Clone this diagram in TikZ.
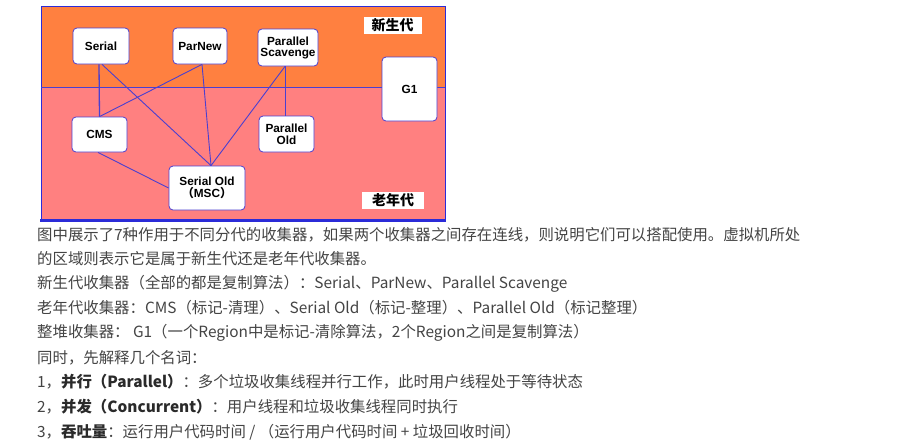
\documentclass[tikz,border=0pt]{standalone}
\usepackage{fontspec}
\setmainfont{Liberation Sans}
\newfontfamily\cjk{Noto Sans CJK SC}
\newfontfamily\lab{Liberation Sans}
\usetikzlibrary{calc}
\definecolor{young}{HTML}{FF8040}
\definecolor{old}{HTML}{FF8080}
\definecolor{edge}{HTML}{4A3FD0}
\definecolor{frame}{HTML}{2B2BD8}
\definecolor{txt}{HTML}{444444}
\definecolor{txtb}{HTML}{2A2A2A}
\begin{document}
\begin{tikzpicture}[x=1pt,y=-1pt,
  gc/.style={draw=edge,line width=0.8pt,fill=white,rounded corners=4pt,
    inner sep=0pt,align=center,font=\lab\bfseries\fontsize{11.8}{13}\selectfont,text=black},
  conn/.style={draw=edge,line width=0.9pt},
  genlab/.style={fill=white,inner sep=0pt,minimum width=58pt,minimum height=17pt,
    font=\cjk\bfseries\fontsize{14}{14}\selectfont,text=black},
  line/.style={anchor=west,inner sep=0pt,text=txt,font=\cjk\fontsize{15.4}{18}\selectfont}
]
\useasboundingbox (0,0) rectangle (901,445);
\fill[white] (0,0) rectangle (901,445);
% generations
\fill[young] (41,6) rectangle (445,87);
\fill[old] (41,87) rectangle (445,221);
\draw[frame,line width=0.8pt] (41,221) -- (41,6) -- (445,6) -- (445,221);
\draw[frame,line width=2.4pt] (40,220.5) -- (446,220.5);
\draw[edge,line width=0.8pt] (41,87) -- (445,87);
% labels
\node[genlab] (ygen) at (392.5,25) {新生代};
\node[genlab,minimum width=62pt] (ogen) at (393,200.5) {老年代};
% collectors
\node[gc,minimum width=56pt,minimum height=36pt] (serial) at (101,46) {Serial};
\node[gc,minimum width=54pt,minimum height=36pt] (parnew) at (200,46) {ParNew};
\node[gc,minimum width=60pt,minimum height=37pt] (ps) at (288,47.5) {Parallel\\[-2pt]Scavenge};
\node[gc,minimum width=55pt,minimum height=64pt] (g1) at (409.5,89) {G1};
\node[gc,minimum width=55pt,minimum height=35pt] (cms) at (99.5,134.5) {CMS};
\node[gc,minimum width=55pt,minimum height=36pt] (po) at (286.5,134) {Parallel\\[-1pt]Old};
\node[gc,minimum width=76pt,minimum height=44pt] (so) at (207,188) {Serial Old\\[-1pt]{\cjk （}MSC{\cjk ）}};
% connectors
\coordinate (sotop) at ($(so.north)+(4,0)$);
\coordinate (pssouth) at ($(ps.south)+(-3,0)$);
\coordinate (posnorth) at ($(po.north)+(-1.5,0)$);
\coordinate (parsouth) at ($(parnew.south)+(2,0)$);
\draw[conn,line width=1.3pt] ($(serial.south)+(-2,0)$) -- ($(cms.north)$);
\draw[conn] ($(serial.south)+(1,0)$) -- (sotop);
\draw[conn] (parsouth) -- (cms.north);
\draw[conn] (parsouth) -- (sotop);
\draw[conn] (pssouth) -- (sotop);
\draw[conn] (pssouth) -- (posnorth);
\draw[conn] ($(cms.south)+(-1.5,0)$) -- (so.west);
% text lines
\node[line] (t1) at (37,235) {图中展示了7种作用于不同分代的收集器，如果两个收集器之间存在连线，则说明它们可以搭配使用。虚拟机所处};
\node[line] (t2) at (37,259) {的区域则表示它是属于新生代还是老年代收集器。};
\node[line] (t3) at (37,283.5) {新生代收集器（全部的都是复制算法）：Serial、ParNew、Parallel Scavenge};
\node[line] (t4) at (37,308) {老年代收集器：CMS（标记-清理）、Serial Old（标记-整理）、Parallel Old（标记整理）};
\node[line] (t5) at (37,333) {整堆收集器： G1（一个Region中是标记-清除算法，2个Region之间是复制算法）};
\node[line] (t6) at (37,357.5) {同时，先解释几个名词：};
\node[line] (t7) at (37,382) {1，{\bfseries\color{txtb}并行（Parallel）}：多个垃圾收集线程并行工作，此时用户线程处于等待状态};
\node[line] (t8) at (37,407) {2，{\bfseries\color{txtb}并发（Concurrent）}：用户线程和垃圾收集线程同时执行};
\node[line] (t9) at (37,432) {3，{\bfseries\color{txtb}吞吐量}：运行用户代码时间 / （运行用户代码时间 + 垃圾回收时间）};
\end{tikzpicture}
\end{document}
